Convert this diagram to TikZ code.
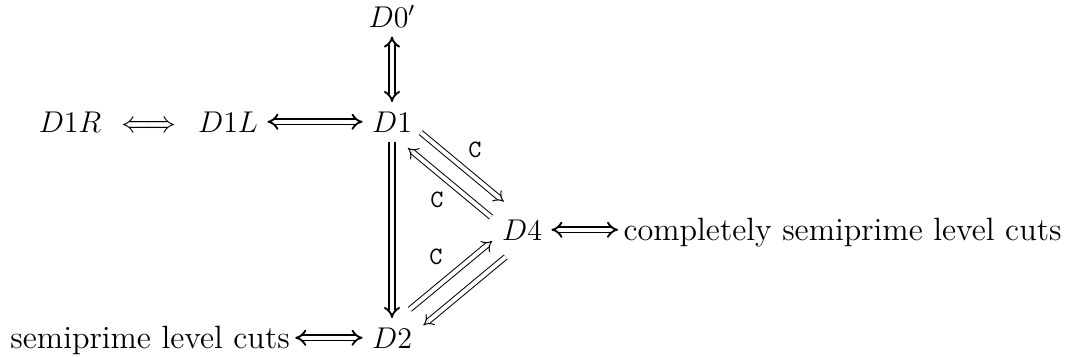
\documentclass[tikz,border=0pt,12pt]{standalone}
\usetikzlibrary{arrows.meta,calc}
\begin{document}
\begin{tikzpicture}[x=0.4pt,y=-0.4pt,
  mnode/.style={inner sep=3.6pt, anchor=base},
  tnode/.style={inner sep=2pt, anchor=base west, font=\fontsize{12.9}{15}\selectfont},
  thickarr/.style={double, double distance=1.4pt, line width=0.75pt},
  thinarr/.style={double, double distance=1.6pt, line width=0.4pt},
  bigtip/.style={arrows={-{Implies[scale=1.2]}}},
  bigtips/.style={arrows={{Implies[scale=1.2]}-{Implies[scale=1.2]}}},
  lbl/.style={font=\fontsize{10}{12}\selectfont\ttfamily, inner sep=0pt}]
\useasboundingbox (0,0) rectangle (1067,356);
% nodes
\node[mnode] (D0) at (392,27) {$D0'$};
\node[mnode] (D1) at (392,132) {$D1$};
\node[mnode] (D1L) at (228,132) {$D1L$};
\node[mnode] (iff) at (148.5,132) {$\Longleftrightarrow$};
\node[mnode] (D1R) at (70,132) {$D1R$};
\node[mnode] (D4) at (522,240) {$D4$};
\node[mnode] (D2) at (392,348) {$D2$};
\node[tnode] (cs) at (618,240) {completely semiprime level cuts};
\node[tnode] (sp) at (5,348) {semiprime level cuts};
% thick connectors
\draw[thickarr, bigtips] (D0) -- (D1);
\draw[thickarr, bigtips] (D1L) -- (D1);
\draw[thickarr, bigtip] (D1) -- (D2);
\draw[thickarr, bigtips] (D4.east) -- (cs.west |- D4.east);
\draw[thickarr, bigtips] (sp.east |- D2.west) -- (D2.west);
% thin diagonal connectors
\draw[thinarr, -Implies, shorten <=11.6pt, shorten >=12.8pt,
  transform canvas={shift={(2.56pt,3.08pt)}}] (D1.center) -- (D4.center);
\draw[thinarr, -Implies, shorten <=12.8pt, shorten >=11.6pt,
  transform canvas={shift={(-2.56pt,-3.08pt)}}] (D4.center) -- (D1.center);
\draw[thinarr, -Implies, shorten <=12.8pt, shorten >=12pt,
  transform canvas={shift={(-2.7pt,3.2pt)}}] (D2.center) -- (D4.center);
\draw[thinarr, -Implies, shorten <=12pt, shorten >=12.8pt,
  transform canvas={shift={(2.7pt,-3.2pt)}}] (D4.center) -- (D2.center);
% labels
\node[lbl] (c1) at (475,150) {C};
\node[lbl] (c2) at (437,200) {C};
\node[lbl] (c3) at (436,257) {C};
\end{tikzpicture}
\end{document}
